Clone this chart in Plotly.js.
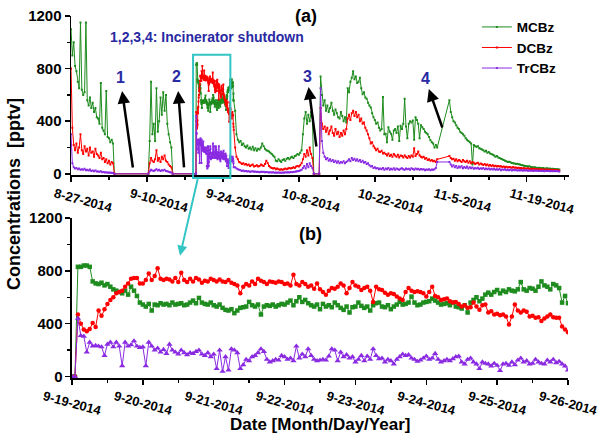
<!DOCTYPE html>
<html>
<head>
<meta charset="utf-8">
<script src="https://cdn.plot.ly/plotly-3.0.1.min.js"></script>
<style>html,body{margin:0;padding:0;background:#fff}#chart{width:600px;height:436px}</style>
</head>
<body>
<div id="chart"></div>
<script>
// ---------------- DATA ----------------
const seriesNames = ['MCBz', 'DCBz', 'TrCBz'];

// Panel (a) tick labels
const aTickVals = ['2014-08-27', '2014-09-10', '2014-09-24', '2014-10-08', '2014-10-22', '2014-11-05', '2014-11-19'];
const aTickText = ['8-27-2014', '9-10-2014', '9-24-2014', '10-8-2014', '10-22-2014', '11-5-2014', '11-19-2014'];
// Panel (b) tick labels
const bTickVals = ['2014-09-19', '2014-09-20', '2014-09-21', '2014-09-22', '2014-09-23', '2014-09-24', '2014-09-25', '2014-09-26'];
const bTickText = ['9-19-2014', '9-20-2014', '9-21-2014', '9-22-2014', '9-23-2014', '9-24-2014', '9-25-2014', '9-26-2014'];

// Zero readings during incinerator shutdowns (times)
const shutdownZeroTimes = ['2014-09-04 00:00', '2014-09-10 06:00', '2014-09-14 18:00', '2014-10-10 18:00', '2014-10-11 18:00'];

// Segment 1 (6-hourly from 8-27)
const seg1Start = '2014-08-27 00:00';
const s1MCBz = [1100, 900, 1000, 820, 780, 700, 650, 1150, 640, 600, 620, 1150, 560, 520, 580, 500, 540, 470, 500, 430, 420, 380, 690, 350, 330, 300, 630, 280, 270, 240, 260, 230];
const s1DCBz = [800, 350, 220, 180, 230, 160, 200, 300, 180, 150, 210, 170, 190, 140, 200, 160, 170, 130, 190, 150, 140, 120, 160, 110, 120, 90, 110, 80, 100, 70, 90, 80];
const s1TrCBz = [300, 80, 50, 40, 45, 35, 40, 30, 35, 30, 38, 28, 30, 25, 32, 22, 25, 20, 26, 18, 18, 15, 20, 12, 14, 10, 12, 8, 10, 8, 9, 6];

// Segment 2 (6-hourly from 9-10 12:00)
const seg2Start = '2014-09-10 12:00';
const s2MCBz = [250, 700, 300, 380, 250, 650, 320, 400, 580, 450, 620, 480, 600, 380, 300, 240, 200];
const s2DCBz = [80, 120, 100, 90, 110, 180, 100, 120, 90, 130, 110, 140, 100, 90, 70, 60, 50];
const s2TrCBz = [20, 30, 25, 22, 28, 35, 25, 30, 22, 28, 25, 30, 22, 20, 15, 12, 10];

// Panel (b): hourly 9-19 00:00 to 9-26 00:00
const panelBStart = '2014-09-19 00:00';
const bMCBz = [0, 0, 830, 830, 840, 840, 830, 720, 705, 700,
  710, 690, 700, 680, 660, 650, 640, 630, 650, 620,
  680, 650, 610, 560, 545, 530, 550, 500, 545, 540,
  555, 545, 550, 540, 560, 545, 550, 555, 540, 545,
  560, 575, 555, 595, 560, 550, 545, 560, 540, 530,
  545, 520, 505, 500, 510, 480, 500, 520, 525, 530,
  565, 540, 530, 545, 470, 530, 540, 535, 545, 530,
  540, 550, 545, 560, 575, 540, 570, 600, 565, 580,
  555, 540, 530, 545, 510, 550, 530, 540, 525, 560,
  540, 520, 505, 530, 485, 525, 530, 560, 535, 520,
  530, 500, 540, 555, 560, 530, 525, 540, 510, 530,
  545, 565, 545, 550, 560, 605, 560, 540, 545, 560,
  565, 570, 590, 575, 560, 545, 550, 555, 540, 560,
  530, 525, 515, 540, 485, 560, 580, 600, 570, 590,
  620, 635, 620, 640, 655, 630, 650, 640, 660, 650,
  645, 660, 715, 660, 650, 670, 665, 650, 680, 720,
  690, 680, 660, 700, 690, 670, 560, 610, 555];
const bDCBz = [0, 0, 470, 400, 357, 343, 360, 405, 375, 500,
  460, 510, 550, 580, 600, 630, 640, 650, 680, 705,
  740, 745, 745, 705, 705, 730, 780, 730, 760, 820,
  740, 730, 740, 735, 720, 745, 715, 785, 730, 715,
  740, 720, 745, 735, 710, 725, 720, 740, 730, 720,
  735, 720, 715, 730, 710, 700, 690, 630, 680, 700,
  690, 720, 700, 740, 725, 715, 700, 720, 715, 710,
  720, 715, 700, 705, 690, 770, 700, 690, 715, 700,
  680, 690, 665, 705, 660, 640, 620, 650, 670, 665,
  680, 705, 690, 630, 670, 715, 690, 680, 655, 670,
  680, 650, 565, 680, 660, 655, 635, 620, 630, 625,
  605, 590, 580, 640, 670, 650, 640, 645, 640, 630,
  605, 640, 680, 610, 600, 580, 585, 590, 570, 560,
  565, 550, 530, 540, 520, 525, 560, 530, 505, 540,
  545, 485, 495, 470, 475, 465, 470, 455, 395, 455,
  545, 500, 485, 500, 490, 455, 460, 445, 450, 420,
  440, 455, 470, 450, 445, 445, 380, 357, 335];
const bTrCBz = [0, 0, 440, 310, 305, 185, 260, 230, 235, 230,
  225, 160, 245, 260, 225, 260, 230, 82, 260, 230,
  240, 270, 230, 220, 225, 82, 260, 230, 200, 215,
  185, 205, 175, 245, 200, 185, 170, 200, 180, 165,
  180, 175, 190, 200, 170, 160, 180, 150, 170, 60,
  200, 40, 150, 50, 210, 200, 180, 60, 90, 130,
  120, 150, 160, 180, 210, 190, 130, 110, 120, 130,
  125, 160, 150, 130, 140, 120, 230, 140, 170, 150,
  210, 160, 130, 120, 125, 130, 125, 155, 210, 200,
  120, 185, 150, 165, 140, 150, 110, 130, 160, 120,
  155, 130, 210, 160, 135, 140, 110, 130, 120, 95,
  130, 150, 170, 160, 165, 140, 130, 115, 125, 140,
  155, 130, 140, 175, 130, 110, 120, 130, 120, 135,
  150, 155, 110, 95, 130, 140, 110, 95, 60, 110,
  100, 95, 80, 100, 85, 45, 95, 100, 85, 110,
  90, 125, 140, 110, 120, 95, 100, 130, 110, 100,
  95, 125, 110, 130, 105, 115, 95, 80, 50];

// Segment 3 (6-hourly from 9-26 06:00)
const seg3Start = '2014-09-26 06:00';
const s3MCBz = [480, 300, 260, 240, 250, 220, 230, 210, 200, 215, 190, 200, 185, 205, 180, 195, 175, 190, 185, 200, 230, 210, 190, 180, 175, 170, 160, 150, 140, 130, 100, 95, 110, 100, 90, 105, 110, 100, 115, 120, 110, 125, 130, 120, 135, 140, 150, 145, 160, 180, 300, 420, 470, 380, 450, 400, 470, 430];
const s3DCBz = [200, 130, 110, 90, 85, 75, 80, 70, 75, 65, 70, 60, 65, 70, 55, 60, 65, 55, 60, 70, 65, 60, 75, 100, 80, 60, 50, 45, 40, 45, 35, 40, 35, 30, 35, 30, 35, 40, 35, 40, 45, 40, 45, 50, 45, 55, 60, 55, 65, 80, 110, 150, 130, 180, 140, 200, 150, 120];
const s3TrCBz = [50, 40, 35, 30, 28, 22, 25, 20, 22, 18, 20, 15, 18, 20, 15, 17, 14, 16, 12, 15, 13, 15, 12, 14, 12, 10, 12, 10, 11, 9, 10, 8, 10, 9, 8, 10, 9, 11, 10, 12, 10, 13, 12, 14, 15, 18, 20, 22, 25, 30, 45, 60, 40, 75, 50, 80, 60, 45];

// Segment 4 (6-hourly from 10-12)
const seg4Start = '2014-10-12 00:00';
const s4MCBz = [740, 600, 520, 560, 480, 520, 470, 500, 540, 480, 450, 490, 460, 430, 420, 470, 440, 400, 430, 390,
  650, 620, 700, 730, 780, 720, 740, 690, 700, 730, 650, 605, 620, 580, 570, 540, 520, 505, 460, 430,
  410, 380, 390, 350, 330, 340, 585, 300, 305, 240, 355, 320, 305, 260, 330, 340, 310, 360, 250, 365,
  340, 380, 570, 360, 270, 380, 400, 390, 405, 260, 430, 410, 380, 270, 370, 355, 340, 320, 310, 300,
  280, 255, 240, 230, 200, 220, 200];
const s4DCBz = [500, 380, 340, 360, 320, 350, 300, 330, 360, 310, 290, 340, 300, 320, 280, 310, 290, 330, 300, 340,
  420, 450, 410, 460, 480, 440, 470, 430, 450, 400, 420, 380, 390, 350, 330, 300, 270, 230, 240, 210,
  195, 180, 190, 170, 165, 175, 155, 160, 150, 140, 155, 135, 145, 130, 150, 140, 130, 145, 125, 140,
  135, 125, 140, 130, 120, 135, 125, 140, 130, 195, 135, 150, 170, 140, 130, 125, 130, 115, 120, 105,
  110, 100, 105, 95, 100, 90, 110];
const s4TrCBz = [650, 250, 160, 130, 110, 120, 100, 110, 95, 105, 90, 100, 85, 95, 80, 90, 85, 95, 80, 90,
  100, 110, 95, 120, 105, 115, 100, 110, 95, 105, 90, 100, 85, 90, 75, 80, 65, 55, 60, 45,
  50, 40, 45, 35, 40, 35, 45, 30, 40, 35, 45, 30, 38, 32, 42, 30, 40, 35, 30, 38,
  42, 35, 30, 40, 35, 38, 30, 42, 36, 30, 40, 34, 38, 30, 36, 32, 35, 28, 33, 30,
  34, 28, 32, 30, 35, 45, 90];

// Segment 5 (6-hourly from 11-4 18:00)
const seg5Start = '2014-11-04 18:00';
const s5MCBz = [560, 470, 430, 400, 390, 370, 350, 340, 320, 310, 300, 290, 270, 260, 250, 240, 230, 70, 220, 210,
  205, 210, 195, 190, 185, 180, 170, 175, 160, 165, 155, 150, 145, 140, 130, 135, 125, 120, 115, 110,
  105, 100, 95, 90, 92, 88, 82, 80, 78, 75, 76, 72, 70, 68, 65, 62, 60, 58, 55, 57,
  52, 50, 48, 50, 47, 45, 46, 44, 42, 45, 41, 40, 42, 38, 40, 37, 38, 36, 37, 35,
  34, 33];
const s5DCBz = [135, 120, 110, 115, 100, 110, 95, 105, 100, 90, 105, 95, 90, 100, 85, 95, 80, 90, 85, 75,
  80, 85, 70, 78, 72, 68, 75, 65, 70, 62, 68, 60, 65, 58, 62, 55, 60, 55, 58, 52,
  56, 50, 54, 48, 52, 50, 47, 51, 46, 48, 44, 47, 42, 45, 40, 43, 40, 38, 42, 37,
  39, 36, 38, 34, 36, 33, 35, 32, 34, 31, 33, 30, 32, 30, 31, 29, 30, 28, 29, 27,
  28, 26];
const s5TrCBz = [90, 70, 55, 65, 50, 60, 45, 55, 48, 58, 42, 52, 45, 55, 40, 50, 42, 48, 38, 45,
  40, 46, 36, 42, 38, 44, 34, 40, 35, 41, 32, 38, 33, 38, 30, 35, 31, 36, 28, 33,
  30, 34, 27, 31, 28, 32, 26, 30, 27, 30, 25, 28, 26, 29, 24, 27, 25, 27, 23, 26,
  24, 26, 22, 25, 23, 25, 21, 24, 22, 24, 20, 23, 21, 23, 20, 22, 20, 22, 19, 21,
  20, 18];

// ---------------- BUILD ----------------
const HOUR = 3600000;
function toMs(s) { return Date.parse(s.replace(' ', 'T') + ':00Z'); }
function fmt(ms) { return new Date(ms).toISOString().slice(0, 16).replace('T', ' '); }
function times(start, stepH, n) { const t0 = toMs(start); return Array.from({length: n}, (_, i) => fmt(t0 + i * stepH * HOUR)); }

function buildA(v1, v2, vb, v3, v4, v5) {
  const z = shutdownZeroTimes;
  const x = [].concat(times(seg1Start, 6, v1.length), [z[0], z[1]], times(seg2Start, 6, v2.length), [z[2]],
    times(panelBStart, 1, vb.length), times(seg3Start, 6, v3.length), [z[3], z[4]],
    times(seg4Start, 6, v4.length), times(seg5Start, 6, v5.length));
  const y = [].concat(v1, [0, 0], v2, [0], vb, v3, [0, 0], v4, v5);
  return {x, y};
}

const colors = ['#1e8c1e', '#ff0000', '#8a2be2'];
const bSymbols = ['square', 'circle', 'triangle-up'];
const bSizes = [4.5, 4.5, 5.5];
const aSets = [
  buildA(s1MCBz, s2MCBz, bMCBz, s3MCBz, s4MCBz, s5MCBz),
  buildA(s1DCBz, s2DCBz, bDCBz, s3DCBz, s4DCBz, s5DCBz),
  buildA(s1TrCBz, s2TrCBz, bTrCBz, s3TrCBz, s4TrCBz, s5TrCBz)
];
const bSets = [bMCBz, bDCBz, bTrCBz];
const bX = times(panelBStart, 1, bMCBz.length);

const traces = [];
aSets.forEach((d, i) => {
  traces.push({type: 'scatter', mode: 'lines+markers', name: seriesNames[i], x: d.x, y: d.y, xaxis: 'x', yaxis: 'y',
    line: {color: colors[i], width: 1}, marker: {color: colors[i], size: 2, symbol: 'square'}, showlegend: true});
});
bSets.forEach((v, i) => {
  traces.push({type: 'scatter', mode: 'lines+markers', name: seriesNames[i], x: bX, y: v, xaxis: 'x2', yaxis: 'y2',
    line: {color: colors[i], width: 1}, marker: {color: colors[i], size: bSizes[i], symbol: bSymbols[i]}, showlegend: false});
});

const FONT = 'Liberation Sans, Arial, sans-serif';
const DAY = 86400000;
const axisCommon = {showgrid: false, zeroline: false, showline: true, linecolor: 'black', linewidth: 1.5,
  ticks: 'outside', ticklen: 5, tickwidth: 1.5, tickcolor: 'black'};

const xA = Object.assign({}, axisCommon, {type: 'date', domain: [0, 1], anchor: 'y',
  range: ['2014-08-27 00:00', '2014-11-26 19:00'], tickmode: 'array', tickvals: aTickVals, ticktext: aTickText,
  tickangle: 15, ticklabelshift: -16, tickfont: {family: FONT, size: 13, weight: 'bold', color: 'black'},
  minor: {tick0: '2014-08-27', dtick: 7 * DAY, ticks: 'outside', ticklen: 3, tickwidth: 1.5, tickcolor: 'black', showgrid: false}});
const xB = Object.assign({}, axisCommon, {type: 'date', domain: [0.002, 0.998], anchor: 'y2',
  range: ['2014-09-19 00:00', '2014-09-26 00:00'], tickmode: 'array', tickvals: bTickVals, ticktext: bTickText,
  tickangle: 15, ticklabelshift: -28, tickfont: {family: FONT, size: 13, weight: 'bold', color: 'black'},
  minor: {tick0: '2014-09-19', dtick: DAY / 2, ticks: 'outside', ticklen: 3, tickwidth: 1.5, tickcolor: 'black', showgrid: false}});
const yCommon = {range: [-10, 1200], tickmode: 'array', tickvals: [0, 400, 800, 1200],
  tickfont: {family: FONT, size: 15, weight: 'bold', color: 'black'},
  minor: {dtick: 200, tick0: 0, ticks: 'outside', ticklen: 3, tickwidth: 1.5, tickcolor: 'black', showgrid: false}};
const yA = Object.assign({}, axisCommon, yCommon, {domain: [0.5604, 1], anchor: 'x'});
const yB = Object.assign({}, axisCommon, yCommon, {domain: [0, 0.4423], anchor: 'x2'});

const blue = '#2929a3';
const annotations = [
  {text: '(a)', xref: 'paper', yref: 'paper', x: 0.472, y: 1.0, xanchor: 'center', yanchor: 'middle', showarrow: false, font: {family: FONT, size: 18, weight: 'bold', color: 'black'}},
  {text: '(b)', xref: 'paper', yref: 'paper', x: 0.48, y: 0.398, xanchor: 'center', yanchor: 'middle', showarrow: false, font: {family: FONT, size: 18, weight: 'bold', color: 'black'}},
  {text: '1,2,3,4: Incinerator shutdown', xref: 'paper', yref: 'paper', x: 0.0743, y: 0.9423, xanchor: 'left', yanchor: 'middle', showarrow: false, font: {family: FONT, size: 14, weight: 'bold', color: blue}},
  {text: '1', xref: 'x', yref: 'y', x: '2014-09-05 01:00', y: 735, showarrow: false, font: {family: FONT, size: 16, weight: 'bold', color: blue}},
  {text: '2', xref: 'x', yref: 'y', x: '2014-09-15 10:00', y: 742, showarrow: false, font: {family: FONT, size: 16, weight: 'bold', color: blue}},
  {text: '3', xref: 'x', yref: 'y', x: '2014-10-09 14:00', y: 742, showarrow: false, font: {family: FONT, size: 16, weight: 'bold', color: blue}},
  {text: '4', xref: 'x', yref: 'y', x: '2014-10-31 10:00', y: 727, showarrow: false, font: {family: FONT, size: 16, weight: 'bold', color: blue}},
  {text: '', xref: 'x', yref: 'y', x: '2014-09-05 10:00', y: 630, ax: 11, ay: 78, showarrow: true, arrowhead: 2, arrowsize: 1, arrowwidth: 2.5, arrowcolor: 'black'},
  {text: '', xref: 'x', yref: 'y', x: '2014-09-15 18:00', y: 630, ax: 6, ay: 78, showarrow: true, arrowhead: 2, arrowsize: 1, arrowwidth: 2.5, arrowcolor: 'black'},
  {text: '', xref: 'x', yref: 'y', x: '2014-10-09 19:00', y: 660, ax: 8, ay: 61, showarrow: true, arrowhead: 2, arrowsize: 1, arrowwidth: 2.5, arrowcolor: 'black'},
  {text: '', xref: 'x', yref: 'y', x: '2014-10-31 23:00', y: 645, ax: 14, ay: 40, showarrow: true, arrowhead: 2, arrowsize: 1, arrowwidth: 2.5, arrowcolor: 'black'},
  {text: '', xref: 'paper', yref: 'paper', x: 0.2189, y: 0.3379, ax: 18, ay: -78, showarrow: true, arrowhead: 2, arrowsize: 1, arrowwidth: 2, arrowcolor: '#33c4c4'},
  {text: 'Concentrations  [pptv]', xref: 'paper', yref: 'paper', x: -0.1145, y: 0.508, xanchor: 'center', yanchor: 'middle', textangle: -90, showarrow: false, font: {family: FONT, size: 18, weight: 'bold', color: 'black'}},
  {text: 'Date [Month/Day/Year]', xref: 'paper', yref: 'paper', x: 0.5, y: -0.129, xanchor: 'center', yanchor: 'middle', showarrow: false, font: {family: FONT, size: 17, weight: 'bold', color: 'black'}}
];

const shapes = [
  {type: 'rect', xref: 'x', yref: 'paper', x0: '2014-09-18 12:00', x1: '2014-09-25 09:00', y0: 0.5522, y1: 0.8929,
   line: {color: '#33c4c4', width: 2}, fillcolor: 'rgba(0,0,0,0)'}
];

const layout = {
  width: 600, height: 436,
  margin: {l: 71, r: 31, t: 14, b: 58},
  paper_bgcolor: 'white', plot_bgcolor: 'white',
  font: {family: FONT, color: 'black'},
  xaxis: xA, yaxis: yA, xaxis2: xB, yaxis2: yB,
  showlegend: true,
  legend: {x: 0.815, y: 1.012, xanchor: 'left', yanchor: 'top', bgcolor: 'rgba(0,0,0,0)', tracegroupgap: 0,
    font: {family: FONT, size: 13.5, weight: 'bold', color: 'black'}},
  annotations: annotations,
  shapes: shapes
};

Plotly.newPlot('chart', traces, layout, {staticPlot: true, displayModeBar: false});
</script>
</body>
</html>
